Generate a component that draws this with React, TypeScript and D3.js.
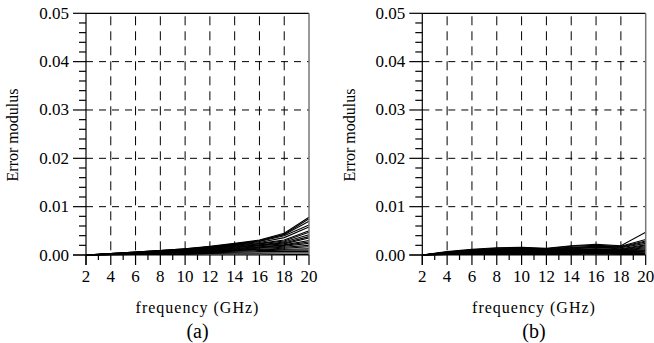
import { useEffect, useRef } from 'react';
import * as d3 from 'd3';

// frequency samples (GHz)
const frequency = [2, 4, 6, 8, 10, 12, 14, 16, 18, 20];
const xMajorTicks = [2, 4, 6, 8, 10, 12, 14, 16, 18, 20];
const xMinorTicks = [3, 5, 7, 9, 11, 13, 15, 17, 19];
const yMajorTicks = [0, 0.01, 0.02, 0.03, 0.04, 0.05];
const yMinorTicks = [
    0.002, 0.004, 0.006, 0.008, 0.012, 0.014, 0.016, 0.018, 0.022, 0.024, 0.026, 0.028,
    0.032, 0.034, 0.036, 0.038, 0.042, 0.044, 0.046, 0.048,
];

const xTitle = 'frequency (GHz)';
const yTitle = 'Error modulus';
const panelLabels = ['(a)', '(b)'];

// panel (a): error modulus curves
const seriesA = [
    [0, 0.0003, 0.0006, 0.0009, 0.0013, 0.0018, 0.0024, 0.0031, 0.0045, 0.0078],
    [0, 0.0003, 0.0006, 0.0009, 0.0013, 0.0017, 0.0023, 0.0030, 0.0043, 0.0075],
    [0, 0.0003, 0.0006, 0.0009, 0.0012, 0.0017, 0.0022, 0.0029, 0.0042, 0.0070],
    [0, 0.0003, 0.0005, 0.0008, 0.0012, 0.0016, 0.0021, 0.0028, 0.0040, 0.0062],
    [0, 0.0002, 0.0005, 0.0008, 0.0011, 0.0015, 0.0020, 0.0026, 0.0036, 0.0058],
    [0, 0.0002, 0.0005, 0.0008, 0.0011, 0.0014, 0.0019, 0.0024, 0.0031, 0.0050],
    [0, 0.0002, 0.0004, 0.0007, 0.0010, 0.0014, 0.0018, 0.0023, 0.0029, 0.0047],
    [0, 0.0002, 0.0004, 0.0007, 0.0010, 0.0013, 0.0017, 0.0021, 0.0027, 0.0042],
    [0, 0.0002, 0.0004, 0.0006, 0.0009, 0.0012, 0.0016, 0.0020, 0.0025, 0.0038],
    [0, 0.0002, 0.0004, 0.0006, 0.0009, 0.0012, 0.0015, 0.0019, 0.0023, 0.0035],
    [0, 0.0002, 0.0004, 0.0006, 0.0008, 0.0011, 0.0014, 0.0017, 0.0021, 0.0030],
    [0, 0.0002, 0.0003, 0.0005, 0.0008, 0.0010, 0.0013, 0.0016, 0.0020, 0.0027],
    [0, 0.0001, 0.0003, 0.0005, 0.0007, 0.0009, 0.0012, 0.0015, 0.0018, 0.0024],
    [0, 0.0001, 0.0003, 0.0005, 0.0007, 0.0009, 0.0011, 0.0014, 0.0016, 0.0020],
    [0, 0.0001, 0.0003, 0.0004, 0.0006, 0.0008, 0.0010, 0.0012, 0.0014, 0.0017],
    [0, 0.0001, 0.0002, 0.0004, 0.0006, 0.0007, 0.0009, 0.0011, 0.0012, 0.0013],
    [0, 0.0001, 0.0002, 0.0003, 0.0005, 0.0006, 0.0008, 0.0009, 0.0010, 0.0010],
    [0, 0.0001, 0.0002, 0.0003, 0.0004, 0.0005, 0.0006, 0.0007, 0.0007, 0.0007],
    [0, 0.0001, 0.0001, 0.0002, 0.0003, 0.0003, 0.0004, 0.0004, 0.0004, 0.0004],
    [0, 0.0000, 0.0001, 0.0001, 0.0001, 0.0002, 0.0002, 0.0002, 0.0001, 0.0001],
];

// panel (b)
const seriesB = [
    [0, 0.0007, 0.0012, 0.0015, 0.0016, 0.0014, 0.0019, 0.0022, 0.0019, 0.0047],
    [0, 0.0006, 0.0011, 0.0014, 0.0015, 0.0013, 0.0018, 0.0020, 0.0018, 0.0032],
    [0, 0.0006, 0.0010, 0.0013, 0.0014, 0.0013, 0.0016, 0.0018, 0.0017, 0.0029],
    [0, 0.0005, 0.0010, 0.0012, 0.0013, 0.0012, 0.0015, 0.0017, 0.0016, 0.0027],
    [0, 0.0005, 0.0009, 0.0011, 0.0012, 0.0011, 0.0014, 0.0016, 0.0015, 0.0024],
    [0, 0.0005, 0.0008, 0.0010, 0.0011, 0.0010, 0.0013, 0.0015, 0.0013, 0.0021],
    [0, 0.0004, 0.0008, 0.0009, 0.0010, 0.0010, 0.0012, 0.0013, 0.0012, 0.0019],
    [0, 0.0004, 0.0007, 0.0009, 0.0009, 0.0009, 0.0011, 0.0012, 0.0011, 0.0017],
    [0, 0.0004, 0.0006, 0.0008, 0.0008, 0.0008, 0.0010, 0.0011, 0.0010, 0.0015],
    [0, 0.0003, 0.0006, 0.0007, 0.0008, 0.0008, 0.0009, 0.0010, 0.0009, 0.0013],
    [0, 0.0003, 0.0005, 0.0006, 0.0007, 0.0007, 0.0008, 0.0009, 0.0008, 0.0011],
    [0, 0.0003, 0.0005, 0.0006, 0.0006, 0.0006, 0.0007, 0.0008, 0.0007, 0.0009],
    [0, 0.0002, 0.0004, 0.0005, 0.0005, 0.0005, 0.0006, 0.0007, 0.0006, 0.0008],
    [0, 0.0002, 0.0003, 0.0004, 0.0005, 0.0005, 0.0005, 0.0006, 0.0005, 0.0006],
    [0, 0.0002, 0.0003, 0.0003, 0.0004, 0.0004, 0.0004, 0.0005, 0.0004, 0.0004],
    [0, 0.0001, 0.0002, 0.0003, 0.0003, 0.0003, 0.0003, 0.0004, 0.0003, 0.0003],
    [0, 0.0001, 0.0002, 0.0002, 0.0002, 0.0002, 0.0002, 0.0003, 0.0002, 0.0002],
    [0, 0.0001, 0.0001, 0.0001, 0.0001, 0.0001, 0.0001, 0.0002, 0.0001, 0.0001],
];

const W = 654;
const H = 343;
const FONT = "'Liberation Serif', 'Times New Roman', serif";

const panels = [
    { left: 86, right: 309, titleX: 18, data: seriesA, label: panelLabels[0] },
    { left: 422.3, right: 645.7, titleX: 355, data: seriesB, label: panelLabels[1] },
];
const plotTop = 13.3;
const plotBottom = 255;

const App = () => {
    const svgRef = useRef(null);

    useEffect(() => {
        const svg = d3.select(svgRef.current);
        svg.selectAll('*').remove();

        panels.forEach((p) => {
            const x = d3.scaleLinear().domain([2, 20]).range([p.left, p.right]);
            const y = d3.scaleLinear().domain([0, 0.05]).range([plotBottom, plotTop]);
            const g = svg.append('g');

            // dashed grid
            g.selectAll('.hgrid')
                .data(yMajorTicks.filter((v) => v > 0 && v < 0.05))
                .join('line')
                .attr('x1', p.left).attr('x2', p.right)
                .attr('y1', (d) => y(d)).attr('y2', (d) => y(d))
                .attr('stroke', '#000').attr('stroke-width', 1)
                .attr('stroke-dasharray', '7,6');
            g.selectAll('.vgrid')
                .data(xMajorTicks.filter((v) => v > 2 && v < 20))
                .join('line')
                .attr('x1', (d) => x(d)).attr('x2', (d) => x(d))
                .attr('y1', plotTop + 3).attr('y2', plotBottom)
                .attr('stroke', '#000').attr('stroke-width', 1)
                .attr('stroke-dasharray', '9,6');

            // curves
            const line = d3.line()
                .x((d, i) => x(frequency[i]))
                .y((d) => y(d));
            g.selectAll('.curve')
                .data(p.data)
                .join('path')
                .attr('d', (d) => line(d))
                .attr('fill', 'none')
                .attr('stroke', '#000')
                .attr('stroke-width', 1.1);

            // frame
            g.append('line').attr('x1', p.left).attr('x2', p.right).attr('y1', plotTop).attr('y2', plotTop)
                .attr('stroke', '#000').attr('stroke-width', 1.2);
            g.append('line').attr('x1', p.right).attr('x2', p.right).attr('y1', plotTop).attr('y2', plotBottom)
                .attr('stroke', '#777').attr('stroke-width', 1.5);
            g.append('line').attr('x1', p.left).attr('x2', p.left).attr('y1', plotTop).attr('y2', plotBottom + 10)
                .attr('stroke', '#000').attr('stroke-width', 1.2);
            g.append('line').attr('x1', p.left - 13).attr('x2', p.right).attr('y1', plotBottom).attr('y2', plotBottom)
                .attr('stroke', '#000').attr('stroke-width', 1.2);

            // y ticks
            g.selectAll('.ymaj')
                .data(yMajorTicks)
                .join('line')
                .attr('x1', p.left - 13).attr('x2', p.left)
                .attr('y1', (d) => y(d)).attr('y2', (d) => y(d))
                .attr('stroke', '#000').attr('stroke-width', 1.2);
            g.selectAll('.ymin')
                .data(yMinorTicks)
                .join('line')
                .attr('x1', p.left - 7).attr('x2', p.left)
                .attr('y1', (d) => y(d)).attr('y2', (d) => y(d))
                .attr('stroke', '#000').attr('stroke-width', 1.2);
            g.selectAll('.ylab')
                .data(yMajorTicks)
                .join('text')
                .attr('x', p.left - 17)
                .attr('y', (d) => y(d) + 5.5)
                .attr('text-anchor', 'end')
                .attr('font-family', FONT).attr('font-size', 17)
                .text((d) => d3.format('.2f')(d));

            // x ticks
            g.selectAll('.xmaj')
                .data(xMajorTicks)
                .join('line')
                .attr('x1', (d) => x(d)).attr('x2', (d) => x(d))
                .attr('y1', plotBottom).attr('y2', plotBottom + 10)
                .attr('stroke', '#000').attr('stroke-width', 1.2);
            g.selectAll('.xmin')
                .data(xMinorTicks)
                .join('line')
                .attr('x1', (d) => x(d)).attr('x2', (d) => x(d))
                .attr('y1', plotBottom).attr('y2', plotBottom + 5)
                .attr('stroke', '#000').attr('stroke-width', 1.2);
            g.selectAll('.xlab')
                .data(xMajorTicks)
                .join('text')
                .attr('x', (d) => x(d))
                .attr('y', 282)
                .attr('text-anchor', 'middle')
                .attr('font-family', FONT).attr('font-size', 17)
                .text((d) => d);

            // titles
            const cx = (p.left + p.right) / 2;
            g.append('text')
                .attr('x', cx).attr('y', 313)
                .attr('text-anchor', 'middle')
                .attr('font-family', FONT).attr('font-size', 16)
                .attr('letter-spacing', 1)
                .text(xTitle);
            g.append('text')
                .attr('transform', `translate(${p.titleX},135) rotate(-90)`)
                .attr('text-anchor', 'middle')
                .attr('font-family', FONT).attr('font-size', 16)
                .text(yTitle);
            g.append('text')
                .attr('x', cx).attr('y', 338)
                .attr('text-anchor', 'middle')
                .attr('font-family', FONT).attr('font-size', 20)
                .text(p.label);
        });
    }, []);

    return (
        <svg
            ref={svgRef}
            width={W}
            height={H}
            style={{ position: 'absolute', left: 0, top: 0, background: '#fff' }}
        />
    );
};

export default App;
